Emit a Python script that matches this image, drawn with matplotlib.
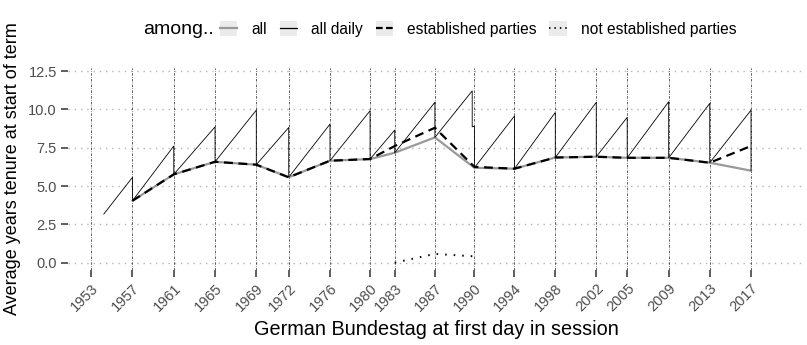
import pandas as pd
import matplotlib
matplotlib.use('Agg')
import matplotlib.pyplot as plt
from matplotlib.lines import Line2D
from matplotlib.patches import Patch

plt.rcParams['font.family'] = ['Liberation Sans', 'DejaVu Sans']

# first day in session of each Bundestag
session_dates = ['1953-10-06', '1957-10-15', '1961-10-17', '1965-10-19', '1969-10-20',
                 '1972-12-13', '1976-12-14', '1980-11-04', '1983-03-29', '1987-02-18',
                 '1990-12-20', '1994-11-10', '1998-10-26', '2002-10-17', '2005-10-18',
                 '2009-10-27', '2013-10-22', '2017-10-24']
session_labels = [d[:4] for d in session_dates]

# average tenure (years) at start of term
all_dates = session_dates[1:]
all_tenure = [4.04, 5.76, 6.58, 6.39, 5.57, 6.65, 6.76, 7.17, 8.17,
              6.19, 6.13, 6.86, 6.91, 6.84, 6.84, 6.52, 6.00]
est_tenure = [4.04, 5.76, 6.58, 6.39, 5.57, 6.65, 6.76, 7.61, 8.80,
              6.25, 6.13, 6.86, 6.91, 6.84, 6.84, 6.52, 7.61]
nonest_dates = ['1983-03-29', '1987-02-18', '1990-12-20']
nonest_tenure = [0.0, 0.57, 0.41]

# daily average tenure (end of term value, then value of the new house)
daily_dates = ['1955-01-01',
               '1957-10-15', '1957-10-15', '1961-10-17', '1961-10-17',
               '1965-10-19', '1965-10-19', '1969-10-20', '1969-10-20',
               '1972-12-13', '1972-12-13', '1976-12-14', '1976-12-14',
               '1980-11-04', '1980-11-04', '1983-03-29', '1983-03-29',
               '1987-02-18', '1987-02-18', '1990-10-03', '1990-10-03',
               '1990-12-20', '1990-12-20', '1994-11-10', '1994-11-10',
               '1998-10-26', '1998-10-26', '2002-10-17', '2002-10-17',
               '2005-10-18', '2005-10-18', '2009-10-27', '2009-10-27',
               '2013-10-22', '2013-10-22', '2017-10-24', '2017-10-24']
daily_tenure = [3.17,
                5.57, 4.04, 7.61, 5.76,
                8.86, 6.58, 9.95, 6.39,
                8.82, 5.57, 9.04, 6.65,
                9.91, 6.76, 8.65, 7.17,
                10.46, 8.17, 11.21, 8.86,
                8.90, 6.19, 9.57, 6.13,
                9.80, 6.86, 10.46, 6.91,
                9.48, 6.84, 10.50, 6.84,
                10.39, 6.52, 9.95, 6.00]

sessions = pd.to_datetime(session_dates)

fig = plt.figure(figsize=(8.07, 3.45), dpi=100)
ax = fig.add_axes([68 / 807, 1 - 270 / 345, (805 - 68) / 807, (270 - 68) / 345])

for s in ax.spines.values():
    s.set_visible(False)

ax.yaxis.grid(True, color='#b5b5b5', linewidth=1.0, linestyle=(0, (1, 3.5)))
ax.set_axisbelow(True)

for d in sessions:
    ax.axvline(d, color='#333333', linewidth=0.55, dashes=(3.3, 1.7, 0.8, 1.7), zorder=1)

ax.plot(pd.to_datetime(all_dates), all_tenure, color='#999999', linewidth=1.6, zorder=3)
ax.plot(pd.to_datetime(all_dates), est_tenure, color='black', linewidth=1.6,
        dashes=(4, 2.5), zorder=4)
ax.plot(pd.to_datetime(nonest_dates), nonest_tenure, color='black', linewidth=1.4,
        dashes=(0.8, 3.6), zorder=4)
ax.plot(pd.to_datetime(daily_dates), daily_tenure, color='black', linewidth=0.6, zorder=5)

ax.set_xlim(pd.Timestamp('1951-07-13'), pd.Timestamp('2023-01-19'))
ax.set_ylim(-0.48, 12.7)
ax.set_yticks([0, 2.5, 5, 7.5, 10, 12.5])
ax.set_yticklabels(['0.0', '2.5', '5.0', '7.5', '10.0', '12.5'])
ax.set_xticks(sessions)
ax.set_xticklabels(session_labels, rotation=45, ha='right', va='top',
                   rotation_mode='anchor')
ax.tick_params(axis='both', length=5, width=1.1, color='#333333', labelsize=10.5,
               labelcolor='#4d4d4d', pad=3)

ax.set_xlabel('German Bundestag at first day in session', fontsize=14.3, labelpad=4)
ax.set_ylabel('Average years tenure at start of term', fontsize=13, labelpad=5)

key_bg = '#ebebeb'
handles = [
    (Patch(facecolor=key_bg, edgecolor='none'), Line2D([], [], color='#999999', linewidth=1.6)),
    (Patch(facecolor=key_bg, edgecolor='none'), Line2D([], [], color='black', linewidth=0.9)),
    (Patch(facecolor=key_bg, edgecolor='none'), Line2D([], [], color='black', linewidth=1.6, dashes=(3, 1.5))),
    (Patch(facecolor=key_bg, edgecolor='none'), Line2D([], [], color='black', linewidth=1.3, dashes=(0.8, 2.2))),
]
labels = ['all', 'all daily', 'established parties', 'not established parties']
fig.legend(handles, labels, loc='center', bbox_to_anchor=(478 / 807, 1 - 29 / 345),
           ncol=4, frameon=False, fontsize=11.2, handlelength=1.1, handleheight=1.1,
           handletextpad=0.9, columnspacing=0.84, borderaxespad=0)
fig.text(143 / 807, 1 - 29 / 345, 'among..', fontsize=14, ha='left', va='center')

fig.savefig('out.png', dpi=100)
